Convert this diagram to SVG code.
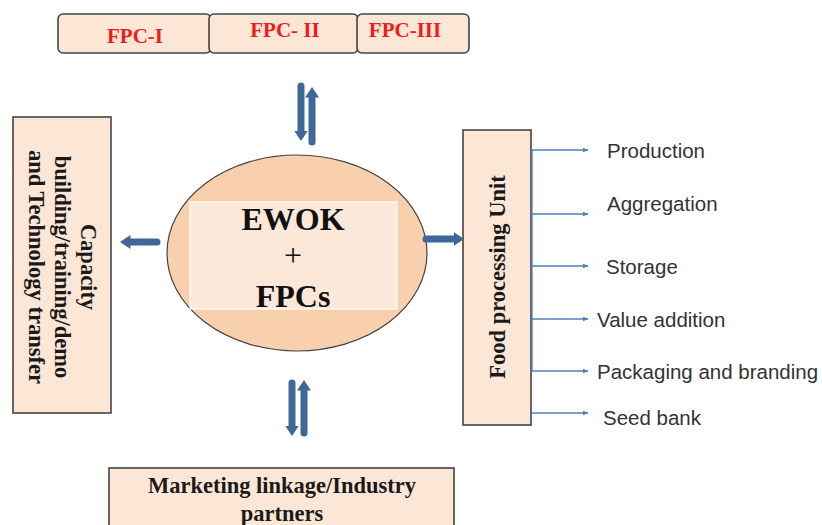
<svg xmlns="http://www.w3.org/2000/svg" width="822" height="525" viewBox="0 0 822 525">
<defs>
<style>
.box{fill:#fce6d6;stroke:#444;stroke-width:1.6}
.fpc{fill:#fce6d6;stroke:#444;stroke-width:1.6}
.red{font-family:"Liberation Serif",serif;font-weight:bold;font-size:21px;fill:#ee1c1c;text-anchor:middle}
.bt{font-family:"Liberation Serif",serif;font-weight:bold;font-size:22.5px;fill:#1a1a1a;text-anchor:middle}
.big{font-family:"Liberation Serif",serif;font-weight:bold;font-size:32px;fill:#111;text-anchor:middle}
.lbl{font-family:"Liberation Sans",Arial,sans-serif;font-size:20.5px;fill:#333}
.thick{stroke:#3e6898;stroke-width:7;stroke-linecap:round;fill:none}
.thin{stroke:#4f81bd;stroke-width:1.3;fill:none}
</style>
<marker id="bh" viewBox="0 0 4 4" refX="1" refY="2" markerWidth="2" markerHeight="2" orient="auto" markerUnits="strokeWidth">
<path d="M0,0 L3,2 L0,4 z" fill="#3e6898"/>
</marker>
<marker id="sh" viewBox="0 0 10 10" refX="9" refY="5" markerWidth="6" markerHeight="6" orient="auto" markerUnits="userSpaceOnUse">
<path d="M0,1 L10,5 L0,9 z" fill="#4f81bd"/>
</marker>
</defs>
<rect width="822" height="525" fill="#fff"/>

<g id="fpc1"><rect class="fpc" x="58" y="14" width="153" height="39" rx="5"/><text class="red" x="135" y="43">FPC-I</text></g>
<g id="fpc2"><rect class="fpc" x="209" y="14" width="149" height="39" rx="5"/><text class="red" x="285" y="37">FPC- II</text></g>
<g id="fpc3"><rect class="fpc" x="357" y="14" width="112" height="39" rx="5"/><text class="red" x="405" y="37">FPC-III</text></g>

<g id="capacity">
<rect class="box" x="13" y="117" width="98" height="296"/>
<text class="bt" transform="translate(62,267) rotate(90)"><tspan x="0" y="-19">Capacity</tspan><tspan x="0" y="7">building/training/demo</tspan><tspan x="0" y="33">and Technology transfer</tspan></text>
</g>

<g id="center">
<ellipse cx="297" cy="253" rx="130" ry="98" fill="#f9d0ad" stroke="#444" stroke-width="1.2"/>
<rect x="190" y="202" width="207" height="107" fill="#fce8d8" stroke="#fff" stroke-width="1.2"/>
<text class="big" x="293" y="230">EWOK</text>
<text class="big" x="293" y="266" style="font-weight:normal">+</text>
<text class="big" x="293" y="307">FPCs</text>
</g>

<g id="fpu">
<rect class="box" x="463" y="130" width="68" height="295"/>
<text class="bt" transform="translate(505,277) rotate(-90)" x="0" y="0">Food processing Unit</text>
</g>

<g id="market">
<rect class="box" x="109" y="468" width="345" height="70"/>
<text class="bt" x="282" y="493">Marketing linkage/Industry</text>
<text class="bt" x="282" y="521">partners</text>
</g>

<g id="connectors">
<line class="thick" x1="301" y1="86" x2="301" y2="134" marker-end="url(#bh)"/>
<line class="thick" x1="312" y1="142" x2="312" y2="94" marker-end="url(#bh)"/>
<line class="thick" x1="292" y1="383" x2="292" y2="429" marker-end="url(#bh)"/>
<line class="thick" x1="304" y1="433" x2="304" y2="387" marker-end="url(#bh)"/>
<line class="thick" x1="157" y1="242" x2="127" y2="242" marker-end="url(#bh)"/>
<line class="thick" x1="426" y1="239" x2="457" y2="239" marker-end="url(#bh)"/>
<line class="thin" x1="532" y1="150" x2="532" y2="371"/>
<line class="thin" x1="532" y1="150" x2="588" y2="150" marker-end="url(#sh)"/>
<line class="thin" x1="532" y1="214" x2="588" y2="214" marker-end="url(#sh)"/>
<line class="thin" x1="532" y1="266" x2="588" y2="266" marker-end="url(#sh)"/>
<line class="thin" x1="532" y1="319" x2="588" y2="319" marker-end="url(#sh)"/>
<line class="thin" x1="532" y1="371" x2="588" y2="371" marker-end="url(#sh)"/>
<line class="thin" x1="531" y1="413" x2="588" y2="413" marker-end="url(#sh)"/>
</g>

<g id="labels">
<text class="lbl" x="607" y="158">Production</text>
<text class="lbl" x="607" y="211">Aggregation</text>
<text class="lbl" x="606" y="274">Storage</text>
<text class="lbl" x="597" y="327">Value addition</text>
<text class="lbl" x="597" y="379">Packaging and branding</text>
<text class="lbl" x="603" y="425">Seed bank</text>
</g>
</svg>
